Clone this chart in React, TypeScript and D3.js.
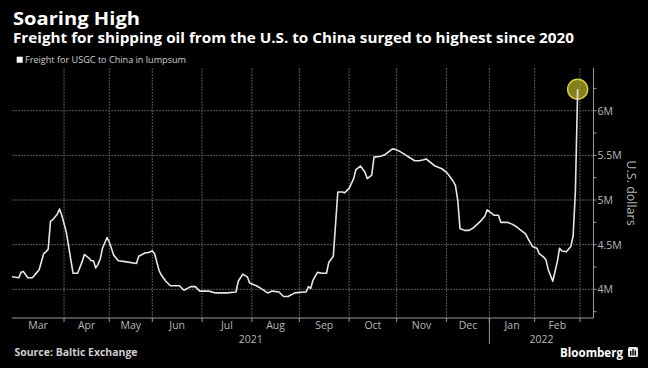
import React from "react";
import * as d3 from "d3";

// ---------- data ----------
const seriesDates = [
  "2021-03-01","2021-03-04","2021-03-05","2021-03-08","2021-03-10","2021-03-12","2021-03-16","2021-03-17","2021-03-19","2021-03-22",
  "2021-03-23","2021-03-24","2021-03-25","2021-03-29","2021-03-30","2021-03-31","2021-04-06","2021-04-08","2021-04-09","2021-04-13",
  "2021-04-15","2021-04-16","2021-04-20","2021-04-21","2021-04-22","2021-04-23","2021-04-26","2021-04-27","2021-04-28","2021-04-30",
  "2021-05-04","2021-05-06","2021-05-10","2021-05-13","2021-05-20","2021-05-21","2021-05-26","2021-05-27","2021-06-01","2021-06-02",
  "2021-06-04","2021-06-07","2021-06-09","2021-06-11","2021-06-17","2021-06-21","2021-06-24","2021-06-28","2021-06-30","2021-07-06",
  "2021-07-09","2021-07-16","2021-07-22","2021-07-23","2021-07-27","2021-07-29","2021-07-30","2021-08-04","2021-08-06","2021-08-11",
  "2021-08-13","2021-08-18","2021-08-20","2021-08-24","2021-08-27","2021-09-03","2021-09-06","2021-09-07","2021-09-08","2021-09-09",
  "2021-09-13","2021-09-15","2021-09-17","2021-09-20","2021-09-22","2021-09-24","2021-09-28","2021-09-29","2021-10-01","2021-10-05",
  "2021-10-06","2021-10-08","2021-10-12","2021-10-13","2021-10-15","2021-10-18","2021-10-21","2021-10-25","2021-10-28","2021-10-29",
  "2021-11-02","2021-11-04","2021-11-09","2021-11-11","2021-11-15","2021-11-17","2021-11-18","2021-11-22","2021-11-24","2021-11-29",
  "2021-12-01","2021-12-02","2021-12-06","2021-12-07","2021-12-08","2021-12-09","2021-12-13","2021-12-15","2021-12-17","2021-12-22",
  "2021-12-29","2021-12-30","2022-01-05","2022-01-06","2022-01-10","2022-01-11","2022-01-13","2022-01-14","2022-01-18","2022-01-20",
  "2022-01-24","2022-01-26","2022-01-27","2022-01-31","2022-02-02","2022-02-03","2022-02-07","2022-02-08","2022-02-09","2022-02-11",
  "2022-02-14","2022-02-15","2022-02-16","2022-02-17","2022-02-21","2022-02-23","2022-02-24","2022-02-25","2022-02-28",
];
const seriesValues = [
  4.14,4.13,4.19,4.20,4.13,4.13,4.19,4.22,4.40,4.42,
  4.45,4.76,4.78,4.84,4.90,4.83,4.64,4.33,4.18,4.18,
  4.31,4.39,4.35,4.32,4.32,4.24,4.28,4.34,4.46,4.58,
  4.53,4.38,4.32,4.31,4.29,4.37,4.41,4.41,4.43,4.40,
  4.21,4.16,4.09,4.04,4.04,3.99,4.03,4.03,3.98,3.98,
  3.96,3.96,3.97,4.09,4.17,4.14,4.07,4.04,4.01,3.96,
  3.98,3.97,3.92,3.92,3.96,3.97,3.97,4.03,4.01,4.10,
  4.19,4.18,4.18,4.30,4.37,5.09,5.09,5.08,5.13,5.24,
  5.34,5.38,5.31,5.24,5.28,5.48,5.49,5.51,5.57,5.57,
  5.55,5.52,5.47,5.44,5.44,5.45,5.46,5.42,5.38,5.35,
  5.31,5.28,5.21,5.16,5.00,4.68,4.66,4.66,4.69,4.76,
  4.82,4.89,4.85,4.83,4.83,4.75,4.75,4.75,4.73,4.70,
  4.66,4.62,4.57,4.48,4.46,4.40,4.36,4.33,4.22,4.09,
  4.20,4.31,4.46,4.43,4.42,4.48,4.60,5.10,6.24,
];
// Baltic Exchange closed days (UK holidays) in the period
const closedDays = [
  "2021-04-02","2021-04-05","2021-05-03","2021-05-31","2021-08-30",
  "2021-12-24","2021-12-27","2021-12-28","2021-12-31","2022-01-03",
];
const calendarStart = "2021-03-01";
const calendarEnd = "2022-03-09";
const yMajorTicks = [4, 4.5, 5, 5.5, 6];
const yMinorTicks = [3.75, 4.25, 4.75, 5.25, 5.75, 6.25];
const yDomain = [3.679, 6.478];

const titleText = "Soaring High";
const subtitleText = "Freight for shipping oil from the U.S. to China surged to highest since 2020";
const legendText = "Freight for USGC to China in lumpsum";
const axisTitle = "U.S. dollars";
const sourceText = "Source: Baltic Exchange";

// ---------- layout ----------
const W = 648, H = 368;
const plot = { left: 12, right: 593.5, top: 68, bottom: 318 };
const FONT = "'Open Sans', 'Noto Sans', sans-serif";

export default function App() {
  const parse = d3.utcParse("%Y-%m-%d");
  const fmt = d3.utcFormat("%Y-%m-%d");
  const closed = new Set(closedDays);
  const bdays: Date[] = d3.utcDay
    .range(parse(calendarStart)!, d3.utcDay.offset(parse(calendarEnd)!, 1))
    .filter((d) => d.getUTCDay() !== 0 && d.getUTCDay() !== 6 && !closed.has(fmt(d)));
  const idxOf = new Map(bdays.map((d, i) => [fmt(d), i]));

  const x = d3.scaleLinear().domain([0, bdays.length - 1]).range([plot.left, plot.right]);
  const y = d3.scaleLinear().domain(yDomain).range([plot.bottom, plot.top]);

  // month boundaries (first business day of each month)
  const bounds: { i: number; d: Date }[] = [];
  bdays.forEach((d, i) => {
    if (i === 0 || d.getUTCMonth() !== bdays[i - 1].getUTCMonth()) bounds.push({ i, d });
  });
  const monthLabels = bounds.slice(0, -1).map((b, k) => ({
    text: d3.utcFormat("%b")(b.d),
    cx: (x(b.i) + x(bounds[k + 1].i)) / 2,
  }));
  const gridBounds = bounds.slice(1);
  const yearBound = bounds.find((b) => b.d.getUTCFullYear() === 2022)!;
  const xYear = x(yearBound.i);

  const pts = seriesDates.map((ds, k) => ({ i: idxOf.get(ds)!, v: seriesValues[k] }));
  const line = d3.line<{ i: number; v: number }>().x((p) => x(p.i)).y((p) => y(p.v))(pts)!;
  const last = pts[pts.length - 1];

  const grid = "#585858";
  const axisCol = "#9a9a9a";
  const labelCol = "#b8b8b8";

  return (
    <svg width={W} height={H} style={{ position: "absolute", left: 0, top: 0, display: "block" }} fontFamily={FONT}>
      <rect x={0} y={0} width={W} height={H} fill="#000" />
      <text x={13} y={25} fill="#fff" fontSize={17.5} fontWeight={700} textLength={127} lengthAdjust="spacingAndGlyphs">{titleText}</text>
      <text x={13} y={43} fill="#fff" fontSize={15} fontWeight={700} textLength={561} lengthAdjust="spacingAndGlyphs">{subtitleText}</text>
      <rect x={16.7} y={56.7} width={6} height={6} fill="#fff" />
      <text x={25} y={63.3} fill="#cfcfcf" fontSize={9.5} textLength={161} lengthAdjust="spacingAndGlyphs">{legendText}</text>

      {/* horizontal gridlines */}
      {yMajorTicks.map((t) => (
        <line key={"h" + t} x1={plot.left} x2={plot.right} y1={y(t)} y2={y(t)} stroke={grid} strokeWidth={1} strokeDasharray="2 1" />
      ))}
      {/* vertical gridlines */}
      {gridBounds.map((b) => (
        <line key={"v" + b.i} x1={x(b.i)} x2={x(b.i)} y1={plot.top} y2={plot.bottom} stroke={grid} strokeWidth={1} strokeDasharray="2 1" />
      ))}

      {/* axes */}
      <line x1={plot.left} x2={plot.right} y1={plot.bottom} y2={plot.bottom} stroke={axisCol} strokeWidth={1} />
      <line x1={plot.right} x2={plot.right} y1={plot.top} y2={plot.bottom} stroke={axisCol} strokeWidth={1} />
      {gridBounds.map((b) => (
        <line key={"t" + b.i} x1={x(b.i)} x2={x(b.i)} y1={plot.bottom} y2={plot.bottom + 4} stroke={axisCol} strokeWidth={1} />
      ))}
      {[...yMajorTicks, ...yMinorTicks].map((t) => (
        <line key={"yt" + t} x1={plot.right} x2={plot.right + 3} y1={y(t)} y2={y(t)} stroke={axisCol} strokeWidth={1} />
      ))}
      {yMajorTicks.map((t) => (
        <text key={"yl" + t} x={plot.right + 4} y={y(t) + 4} fill={labelCol} fontSize={10.5}>{d3.format("~g")(t) + "M"}</text>
      ))}
      <text transform={`translate(627,193) rotate(90)`} textAnchor="middle" fill={labelCol} fontSize={12.5}>{axisTitle}</text>

      {monthLabels.map((m) => (
        <text key={m.text + m.cx} x={m.cx} y={329} textAnchor="middle" fill={labelCol} fontSize={10.5}>{m.text}</text>
      ))}
      <line x1={xYear} x2={xYear} y1={plot.bottom} y2={344} stroke={axisCol} strokeWidth={1} />
      <text x={(plot.left + xYear) / 2} y={343} textAnchor="middle" fill={labelCol} fontSize={10.5}>2021</text>
      <text x={(xYear + plot.right) / 2} y={343} textAnchor="middle" fill={labelCol} fontSize={10.5}>2022</text>

      {/* highlight circle + series */}
      <circle cx={x(last.i)} cy={y(last.v)} r={10} fill="#a59d22" fillOpacity={0.8} stroke="#d9cf3c" strokeWidth={1.5} />
      <path d={line} fill="none" stroke="#e6e6e6" strokeWidth={1.6} strokeLinejoin="round" />

      {/* footer */}
      <text x={14.5} y={356} fill="#d0d0d0" fontSize={10} fontWeight={700} textLength={123} lengthAdjust="spacingAndGlyphs">{sourceText}</text>
      <text x={560} y={356.5} fill="#fff" fontSize={13} fontWeight={700} textLength={63} lengthAdjust="spacingAndGlyphs">Bloomberg</text>
      <rect x={628} y={347} width={10} height={10} rx={1.5} fill="#e8e8e8" />
      <rect x={630} y={351} width={1.4} height={4.5} fill="#000" />
      <rect x={632.3} y={349.2} width={1.4} height={6.3} fill="#000" />
      <rect x={634.6} y={350.5} width={1.4} height={5} fill="#000" />
    </svg>
  );
}
